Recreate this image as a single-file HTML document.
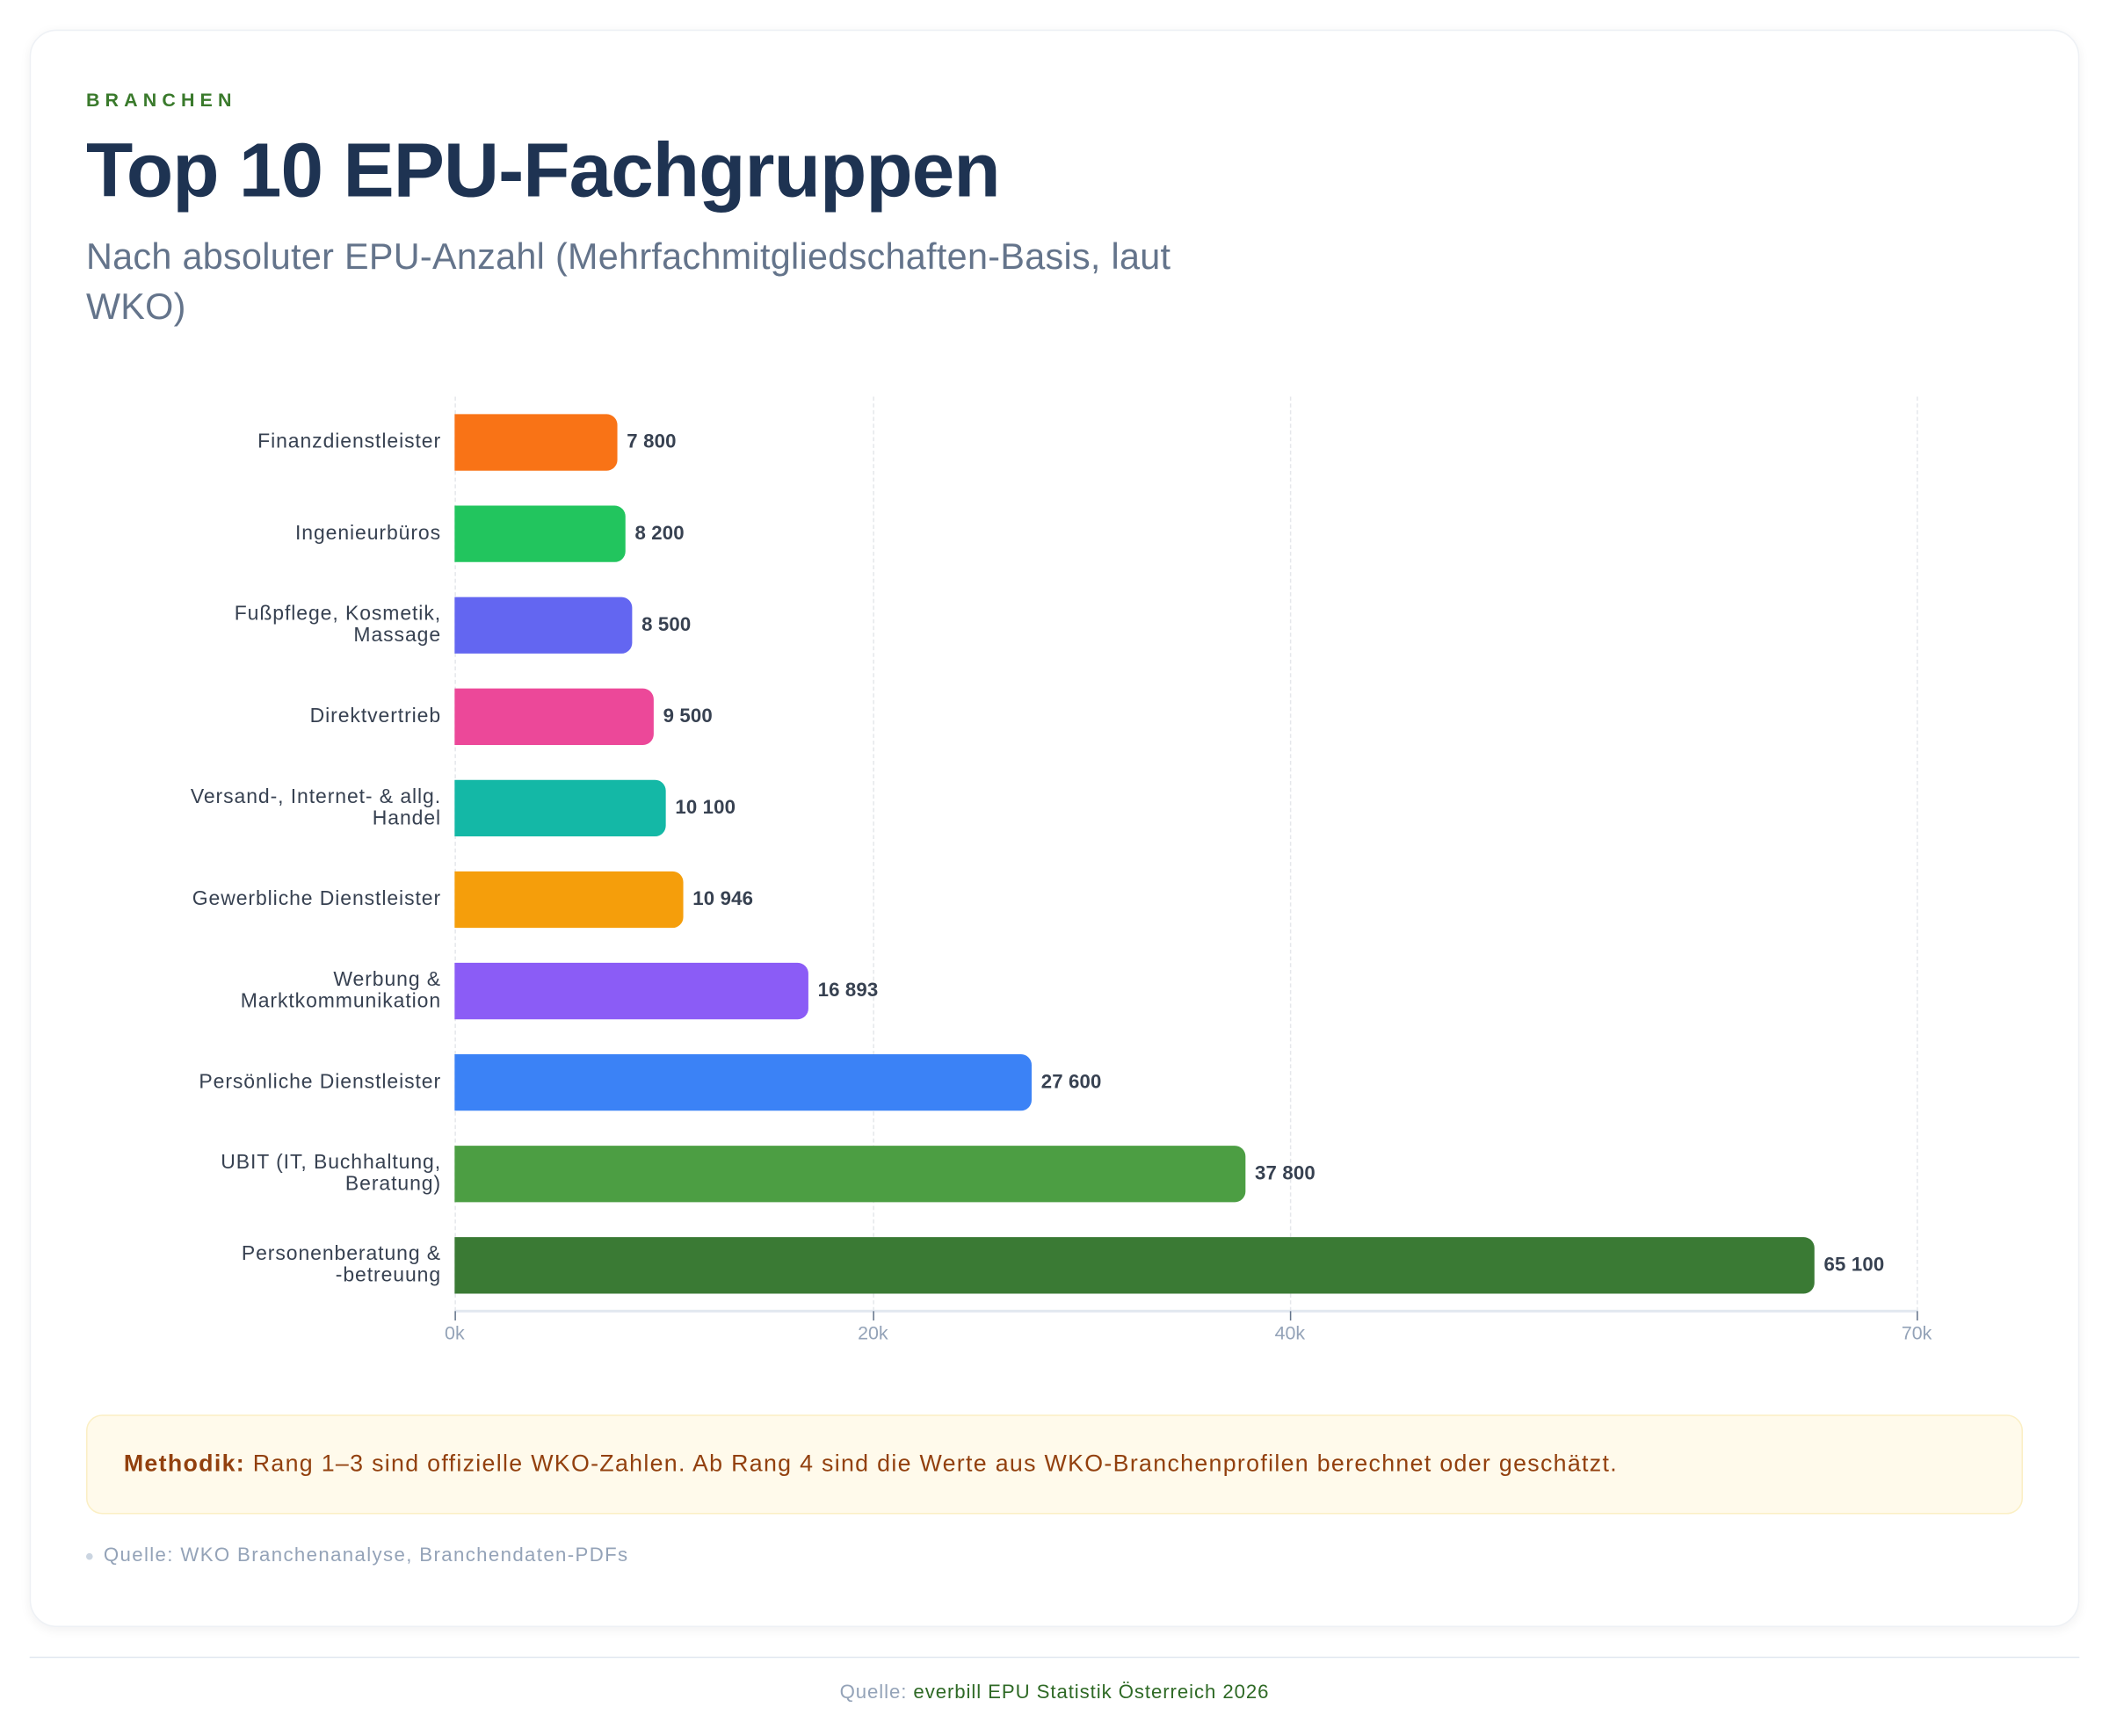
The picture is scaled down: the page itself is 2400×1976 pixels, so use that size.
<!DOCTYPE html>
<html><head><meta charset="utf-8"><style>
html,body{margin:0;padding:0;background:#fff;width:2400px;height:1976px;overflow:hidden}
#w{position:absolute;left:0;top:0;width:1568px;height:1291px;transform:scale(1.530612);transform-origin:0 0;font-family:"Liberation Sans",sans-serif}
.a{position:absolute}
.card{left:22px;top:22px;width:1522px;height:1186px;border:1px solid #eef1f5;border-radius:20px;box-shadow:0 2px 8px rgba(15,23,42,.06);background:#fff}
.lbl{right:1240px;font-size:15px;letter-spacing:0.6px;color:#374151;text-align:right;line-height:16px;white-space:nowrap}
.bar{left:338px;height:42px;border-radius:0 8px 8px 0}
.val{font-size:14.5px;font-weight:bold;color:#374151;letter-spacing:0.1px}
.grid{top:295px;height:680px;border-left:1px dashed #e5e7eb;width:0}
.tick{font-size:14px;color:#94a3b8;top:983px;transform:translateX(-50%)}
</style></head><body><div id="w">
<div class="a card"></div>
<div class="a" style="left:64px;top:66px;font-size:14px;letter-spacing:4px;color:#3a7a2c;font-weight:bold">BRANCHEN</div>
<div class="a" style="left:64px;top:94px;font-size:57px;font-weight:bold;color:#1e3352;letter-spacing:-0.6px">Top 10 EPU-Fachgruppen</div>
<div class="a" style="left:64px;top:173px;width:850px;font-size:27px;letter-spacing:0.2px;line-height:37px;color:#64748b">Nach absoluter EPU-Anzahl (Mehrfachmitgliedschaften-Basis, laut WKO)</div>

<div class="a grid" style="left:338px"></div>
<div class="a grid" style="left:649px"></div>
<div class="a grid" style="left:959px"></div>
<div class="a grid" style="left:1425px"></div>
<div class="a" style="left:338px;top:974px;width:1088px;height:2px;background:#e2e8f0"></div>
<div class="a" style="left:338px;top:975px;width:1px;height:7px;background:#64748b"></div>
<div class="a" style="left:649px;top:975px;width:1px;height:7px;background:#64748b"></div>
<div class="a" style="left:959px;top:975px;width:1px;height:7px;background:#64748b"></div>
<div class="a" style="left:1425px;top:975px;width:1px;height:7px;background:#64748b"></div>
<div class="a tick" style="left:338px">0k</div>
<div class="a tick" style="left:649px">20k</div>
<div class="a tick" style="left:959px">40k</div>
<div class="a tick" style="left:1425px">70k</div>

<div class="a bar" style="top:308px;width:121px;background:#f97316"></div><div class="a val" style="left:466px;top:321px">7 800</div><div class="a lbl" style="top:321px">Finanzdienstleister</div>
<div class="a bar" style="top:376px;width:127px;background:#22c55e"></div><div class="a val" style="left:472px;top:389px">8 200</div><div class="a lbl" style="top:389px">Ingenieurbüros</div>
<div class="a bar" style="top:444px;width:132px;background:#6366f1"></div><div class="a val" style="left:477px;top:457px">8 500</div><div class="a lbl" style="top:449px">Fußpflege, Kosmetik,<br>Massage</div>
<div class="a bar" style="top:512px;width:148px;background:#ec4899"></div><div class="a val" style="left:493px;top:525px">9 500</div><div class="a lbl" style="top:525px">Direktvertrieb</div>
<div class="a bar" style="top:580px;width:157px;background:#14b8a6"></div><div class="a val" style="left:502px;top:593px">10 100</div><div class="a lbl" style="top:585px">Versand-, Internet- &amp; allg.<br>Handel</div>
<div class="a bar" style="top:648px;width:170px;background:#f59e0b"></div><div class="a val" style="left:515px;top:661px">10 946</div><div class="a lbl" style="top:661px">Gewerbliche Dienstleister</div>
<div class="a bar" style="top:716px;width:263px;background:#8b5cf6"></div><div class="a val" style="left:608px;top:729px">16 893</div><div class="a lbl" style="top:721px">Werbung &amp;<br>Marktkommunikation</div>
<div class="a bar" style="top:784px;width:429px;background:#3b82f6"></div><div class="a val" style="left:774px;top:797px">27 600</div><div class="a lbl" style="top:797px">Persönliche Dienstleister</div>
<div class="a bar" style="top:852px;width:588px;background:#4c9e43"></div><div class="a val" style="left:933px;top:865px">37 800</div><div class="a lbl" style="top:857px">UBIT (IT, Buchhaltung,<br>Beratung)</div>
<div class="a bar" style="top:920px;width:1011px;background:#3a7a34"></div><div class="a val" style="left:1356px;top:933px">65 100</div><div class="a lbl" style="top:925px">Personenberatung &amp;<br>-betreuung</div>

<div class="a" style="left:64px;top:1052px;width:1440px;height:74px;background:#fffaeb;border:1px solid #fbefc4;border-radius:12px;box-sizing:border-box"></div>
<div class="a" style="left:92px;top:1078px;font-size:17.5px;letter-spacing:0.85px;color:#92400e"><b>Methodik:</b> Rang 1–3 sind offizielle WKO-Zahlen. Ab Rang 4 sind die Werte aus WKO-Branchenprofilen berechnet oder geschätzt.</div>
<div class="a" style="left:64px;top:1155px;width:5px;height:5px;border-radius:50%;background:#cbd5e1"></div>
<div class="a" style="left:77px;top:1149px;font-size:14.5px;letter-spacing:0.9px;color:#94a3b8">Quelle: WKO Branchenanalyse, Branchendaten-PDFs</div>
<div class="a" style="left:22px;top:1232px;width:1524px;height:1px;background:#e2e8f0"></div>
<div class="a" style="left:0;width:1568px;top:1251px;text-align:center;font-size:14.5px;letter-spacing:0.6px;color:#94a3b8">Quelle: <span style="color:#2f6a26">everbill EPU Statistik Österreich 2026</span></div>
</div></body></html>
